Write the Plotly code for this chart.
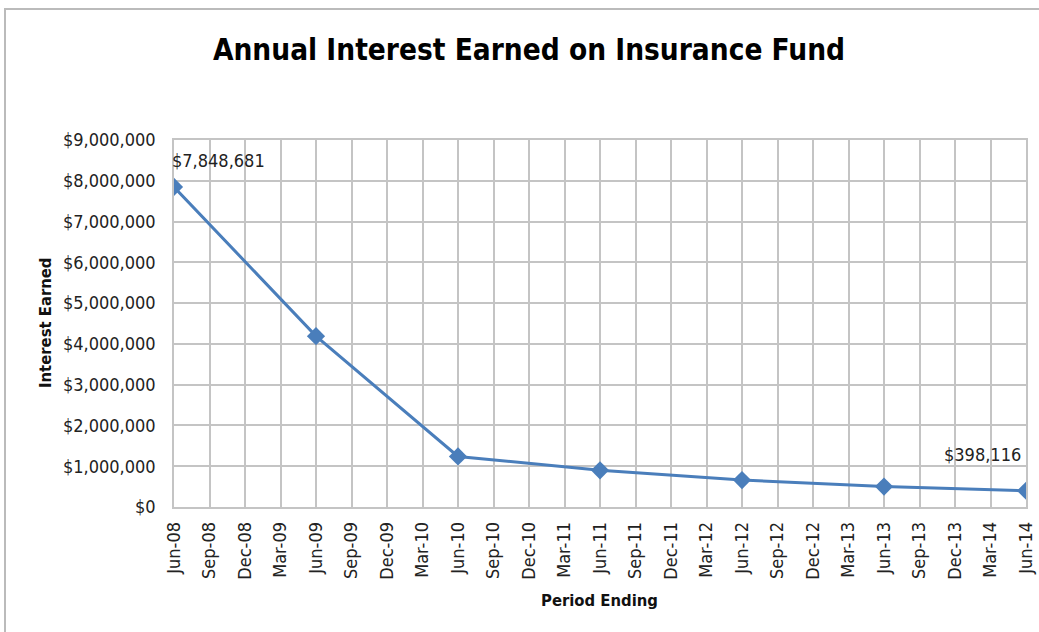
import plotly.graph_objects as go

quarters = ["Jun-08","Sep-08","Dec-08","Mar-09","Jun-09","Sep-09","Dec-09","Mar-10",
            "Jun-10","Sep-10","Dec-10","Mar-11","Jun-11","Sep-11","Dec-11","Mar-12",
            "Jun-12","Sep-12","Dec-12","Mar-13","Jun-13","Sep-13","Dec-13","Mar-14","Jun-14"]
periods = ["Jun-08","Jun-09","Jun-10","Jun-11","Jun-12","Jun-13","Jun-14"]
interest = [7848681, 4190000, 1240000, 900000, 660000, 500000, 398116]
y_ticks = [0,1000000,2000000,3000000,4000000,5000000,6000000,7000000,8000000,9000000]
y_labels = ["$0" if v == 0 else "${:,}".format(v) for v in y_ticks]

font = "DejaVu Sans Condensed, Open Sans, sans-serif"
blue = "#4A7EBB"

W, H = 1039, 632
L, T = 174, 140
PW, PH = 852, 367

fig = go.Figure()
fig.add_trace(go.Scatter(
    x=periods, y=interest, mode="lines+markers",
    line=dict(color=blue, width=3),
    marker=dict(symbol="diamond", size=14, color=blue),
    hoverinfo="x+y", showlegend=False))

fig.add_annotation(x=periods[0], y=interest[0], text="$7,848,681", showarrow=False,
                   xanchor="left", yanchor="bottom", xshift=-4, yshift=14,
                   font=dict(family=font, size=18, color="#222222"))
fig.add_annotation(x=periods[-1], y=interest[-1], text="$398,116", showarrow=False,
                   xanchor="right", yanchor="bottom", xshift=-3, yshift=24,
                   font=dict(family=font, size=18, color="#222222"))

fig.add_annotation(xref="paper", yref="paper", x=(45-L)/PW, y=(507-323)/PH,
                   text="<b>Interest Earned</b>", textangle=-90, showarrow=False,
                   xanchor="center", yanchor="middle",
                   font=dict(family=font, size=16.5, color="#111111"))
fig.add_annotation(xref="paper", yref="paper", x=(599-L)/PW, y=-(600-507)/PH,
                   text="<b>Period Ending</b>", showarrow=False, xanchor="center", yanchor="middle",
                   font=dict(family=font, size=16.5, color="#111111"))

fig.add_shape(type="rect", xref="paper", yref="paper",
              x0=(5-L)/PW, x1=(1080-L)/PW, y0=-(680-507)/PH, y1=(507-9)/PH,
              line=dict(color="#BBBBBB", width=2), fillcolor="rgba(0,0,0,0)", layer="below")

fig.update_layout(
    width=W, height=H,
    margin=dict(l=L, r=W - L - PW, t=T, b=H - T - PH, pad=0),
    paper_bgcolor="white", plot_bgcolor="white",
    title=dict(text="<b>Annual Interest Earned on Insurance Fund</b>",
               x=529/W, xanchor="center", y=1-50/H, yanchor="middle",
               font=dict(family=font, size=29.5, color="#000000")),
    xaxis=dict(type="category", categoryorder="array", categoryarray=quarters,
               range=[0, 24], tickangle=-90, showgrid=True, gridcolor="#C4C4C4", gridwidth=1.5,
               showline=True, linecolor="#C4C4C4", linewidth=1.5, mirror=True,
               ticks="", ticklabelstandoff=6, automargin=False,
               tickfont=dict(family=font, size=18, color="#222222"),
               zeroline=False),
    yaxis=dict(range=[0, 9000000], tickvals=y_ticks, ticktext=y_labels,
               showgrid=True, gridcolor="#C4C4C4", gridwidth=1.5,
               showline=True, linecolor="#C4C4C4", linewidth=1.5, mirror=True,
               ticks="", ticklabelstandoff=13, automargin=False,
               tickfont=dict(family=font, size=18, color="#222222"),
               zeroline=False),
)
fig.write_html("out.html", config={"displayModeBar": False},
               post_script="document.body.style.margin='0px';")
